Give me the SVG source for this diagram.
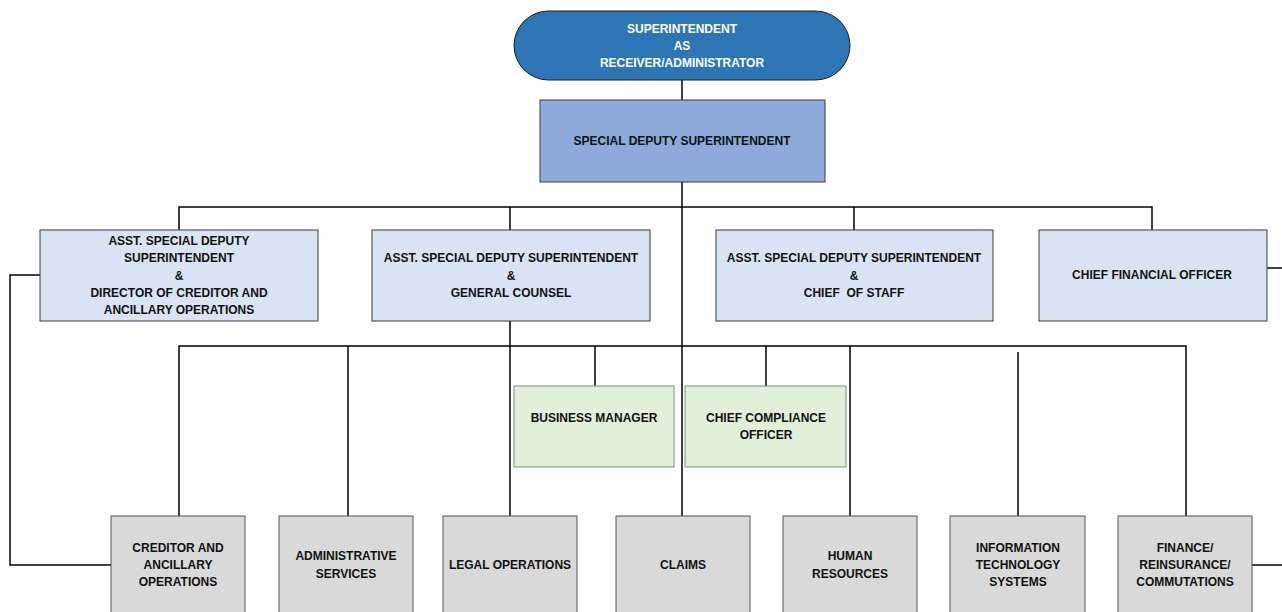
<svg xmlns="http://www.w3.org/2000/svg" width="1282" height="612" viewBox="0 0 1282 612">
<style>
text{font-family:"Liberation Sans",Arial,sans-serif;font-weight:bold;font-size:12px;text-anchor:middle;fill:#111}
.top text{fill:#fff}
.box{stroke:#3a3a3a;stroke-width:1}
.l1{fill:#dae3f3}
.gr{fill:#e2efd9;stroke:#7f8f7a}
.gy{fill:#d9d9d9;stroke:#555}
#connectors path{fill:none;stroke:#000;stroke-width:1.5}
</style>
<rect width="1282" height="612" fill="#fff"/>
<g id="connectors">
<path d="M682 80V100"/>
<path d="M682 182V516"/>
<path d="M179 230V207H1152V230"/>
<path d="M510 207V230"/>
<path d="M854 207V230"/>
<path d="M510 321V516"/>
<path d="M179 516V346H1186V516"/>
<path d="M348 346V516"/>
<path d="M595 346V386"/>
<path d="M766 346V386"/>
<path d="M850 346V516"/>
<path d="M1018 352V516"/>
<path d="M40 275H10V565H111"/>
<path d="M1267 268H1282"/>
<path d="M1252 565H1282"/>
</g>
<g id="superintendent" class="top">
<rect x="514" y="11" width="336" height="69" rx="34.5" fill="#2e75b6" stroke="#1a1a1a" stroke-width="1"/>
<text x="682" y="33">SUPERINTENDENT</text>
<text x="682" y="50">AS</text>
<text x="682" y="67">RECEIVER/ADMINISTRATOR</text>
</g>
<g id="sds">
<rect class="box" x="540" y="100" width="285" height="82" fill="#8eaadb"/>
<text x="682" y="145">SPECIAL DEPUTY SUPERINTENDENT</text>
</g>
<g id="asds-director">
<rect class="box l1" x="40" y="230" width="278" height="91"/>
<text x="179" y="245">ASST. SPECIAL DEPUTY</text>
<text x="179" y="262">SUPERINTENDENT</text>
<text x="179" y="280">&amp;</text>
<text x="179" y="297">DIRECTOR OF CREDITOR AND</text>
<text x="179" y="314">ANCILLARY OPERATIONS</text>
</g>
<g id="asds-counsel">
<rect class="box l1" x="372" y="230" width="278" height="91"/>
<text x="511" y="262">ASST. SPECIAL DEPUTY SUPERINTENDENT</text>
<text x="511" y="280">&amp;</text>
<text x="511" y="297">GENERAL COUNSEL</text>
</g>
<g id="asds-staff">
<rect class="box l1" x="716" y="230" width="277" height="91"/>
<text x="854" y="262">ASST. SPECIAL DEPUTY SUPERINTENDENT</text>
<text x="854" y="280">&amp;</text>
<text x="854" y="297" xml:space="preserve">CHIEF  OF STAFF</text>
</g>
<g id="cfo">
<rect class="box l1" x="1039" y="230" width="228" height="91"/>
<text x="1152" y="279">CHIEF FINANCIAL OFFICER</text>
</g>
<g id="business-manager">
<rect class="gr" x="514" y="386" width="160" height="81"/>
<text x="594" y="422">BUSINESS MANAGER</text>
</g>
<g id="cco">
<rect class="gr" x="685" y="386" width="161" height="81"/>
<text x="766" y="422">CHIEF COMPLIANCE</text>
<text x="766" y="439">OFFICER</text>
</g>
<g id="creditor">
<rect class="gy" x="111" y="516" width="134" height="110"/>
<text x="178" y="552">CREDITOR AND</text>
<text x="178" y="569">ANCILLARY</text>
<text x="178" y="586">OPERATIONS</text>
</g>
<g id="admin">
<rect class="gy" x="279" y="516" width="134" height="110"/>
<text x="346" y="560">ADMINISTRATIVE</text>
<text x="346" y="578">SERVICES</text>
</g>
<g id="legal">
<rect class="gy" x="443" y="516" width="134" height="110"/>
<text x="510" y="569">LEGAL OPERATIONS</text>
</g>
<g id="claims">
<rect class="gy" x="616" y="516" width="134" height="110"/>
<text x="683" y="569">CLAIMS</text>
</g>
<g id="hr">
<rect class="gy" x="783" y="516" width="134" height="110"/>
<text x="850" y="560">HUMAN</text>
<text x="850" y="578">RESOURCES</text>
</g>
<g id="it">
<rect class="gy" x="950" y="516" width="135" height="110"/>
<text x="1018" y="552">INFORMATION</text>
<text x="1018" y="569">TECHNOLOGY</text>
<text x="1018" y="586">SYSTEMS</text>
</g>
<g id="finance">
<rect class="gy" x="1118" y="516" width="134" height="110"/>
<text x="1185" y="552">FINANCE/</text>
<text x="1185" y="569">REINSURANCE/</text>
<text x="1185" y="586">COMMUTATIONS</text>
</g>
</svg>
